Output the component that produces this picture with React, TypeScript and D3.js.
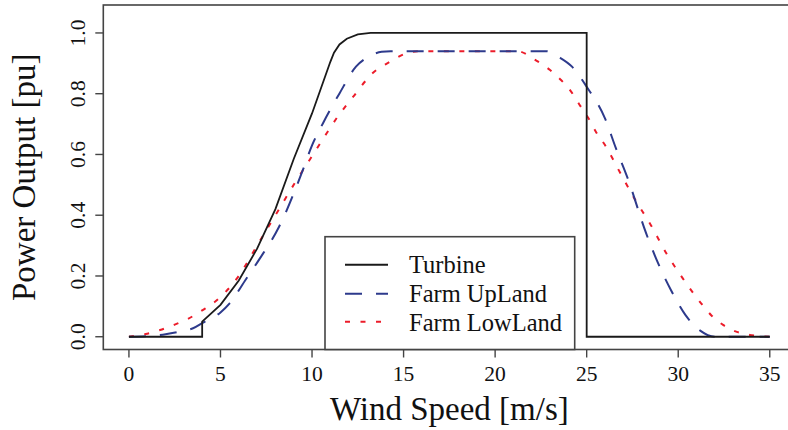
import React from "react";
import * as d3 from "d3";

const turbineWind = [0, 4, 4, 5, 6, 7, 8, 9, 10, 11, 11.2, 11.5, 11.9, 12.5, 13.2, 25, 25, 35];
const turbinePower = [0, 0, 0.05, 0.105, 0.185, 0.29, 0.42, 0.585, 0.735, 0.905, 0.935, 0.962, 0.981, 0.995, 1.0, 1.0, 0, 0];

const uplandWind = [0, 1, 2, 3, 3.5, 4, 5, 5.5, 6.4, 7.1, 8.2, 9.5, 10, 10.6, 11.5, 12.4, 13.2, 13.8, 14.3, 22.8, 23.5, 24.2, 25, 26, 26.6, 27.25, 28.25, 28.9, 29.6, 30.4, 31.2, 32, 35];
const uplandPower = [0, 0.002, 0.008, 0.02, 0.028, 0.045, 0.08, 0.11, 0.19, 0.253, 0.362, 0.549, 0.63, 0.703, 0.801, 0.889, 0.925, 0.938, 0.94, 0.94, 0.92, 0.889, 0.823, 0.719, 0.62, 0.52, 0.34, 0.242, 0.154, 0.071, 0.02, 0, 0];

const lowlandWind = [0, 1, 1.7, 2.5, 3.2, 4, 4.7, 5.9, 7.1, 8.1, 9.05, 9.9, 10.8, 11.35, 12.25, 13.3, 14.25, 15.15, 15.8, 21.2, 22.25, 23, 23.6, 24.15, 24.65, 25.1, 25.5, 26, 26.8, 27.6, 28.5, 29.35, 30.25, 31.25, 31.8, 32.45, 33.2, 33.9, 35];
const lowlandPower = [0, 0.01, 0.022, 0.04, 0.058, 0.087, 0.115, 0.192, 0.31, 0.41, 0.505, 0.585, 0.67, 0.72, 0.79, 0.867, 0.905, 0.933, 0.94, 0.94, 0.909, 0.878, 0.845, 0.807, 0.76, 0.719, 0.675, 0.631, 0.543, 0.456, 0.368, 0.275, 0.192, 0.11, 0.071, 0.039, 0.016, 0.006, 0];

const xTicks = [0, 5, 10, 15, 20, 25, 30, 35];
const yTicks = [0, 0.2, 0.4, 0.6, 0.8, 1.0];
const legendLabels = ["Turbine", "Farm UpLand", "Farm LowLand"];

const FONT = "'Liberation Serif', 'Times New Roman', serif";
const BLUE = "#2D3A8C";
const RED = "#EC1C2A";
const FRAME = "#444";

export default function App() {
  const W = 788, H = 430;
  const left = 103.3, right = 795.4, top = 5, bottom = 349.5;
  const x = d3.scaleLinear().domain([-1.4, 36.4]).range([left, right]);
  const y = d3.scaleLinear().domain([-0.042, 1.092]).range([bottom, top]);

  const zip = (a: number[], b: number[]) => a.map((v, i) => [v, b[i]] as [number, number]);
  const linLine = d3.line<[number, number]>().x(d => x(d[0])).y(d => y(d[1]));
  const smoothLine = d3.line<[number, number]>().x(d => x(d[0])).y(d => y(d[1])).curve(d3.curveMonotoneX);

  const turbinePath = linLine(zip(turbineWind, turbinePower)) || "";
  const uplandPath = smoothLine(zip(uplandWind, uplandPower)) || "";
  const lowlandPath = smoothLine(zip(lowlandWind, lowlandPower)) || "";

  const styles = [
    { stroke: "#1a1a1a", dash: undefined as string | undefined },
    { stroke: BLUE, dash: "17,14" },
    { stroke: RED, dash: "5,10.5" },
  ];

  const legX = 325, legY = 236.7, legR = 574.7;
  const rowY = [264.7, 293.8, 321.8];
  const baseY = [273, 302, 330.5];

  return (
    <svg width={W} height={H} style={{ position: "absolute", left: 0, top: 0, background: "#fff" }}>
      <rect x={0} y={0} width={W} height={H} fill="#fff" />
      {/* curves */}
      <path d={lowlandPath} fill="none" stroke={RED} strokeWidth={2} strokeDasharray={styles[2].dash} />
      <path d={uplandPath} fill="none" stroke={BLUE} strokeWidth={2} strokeDasharray={styles[1].dash} />
      <path d={turbinePath} fill="none" stroke="#1a1a1a" strokeWidth={1.8} />

      {/* frame */}
      <rect x={left} y={top} width={right - left} height={bottom - top} fill="none" stroke={FRAME} strokeWidth={1.6} />

      {/* x axis ticks */}
      {xTicks.map(t => (
        <g key={"x" + t}>
          <line x1={x(t)} x2={x(t)} y1={bottom} y2={bottom + 8} stroke={FRAME} strokeWidth={1.4} />
          <text x={x(t)} y={380.5} textAnchor="middle" fontFamily={FONT} fontSize={21.5} fill="#111">{t}</text>
        </g>
      ))}
      {/* y axis ticks */}
      {yTicks.map(t => (
        <g key={"y" + t}>
          <line x1={left} x2={left - 8} y1={y(t)} y2={y(t)} stroke={FRAME} strokeWidth={1.4} />
          <text transform={`translate(85,${y(t)}) rotate(-90)`} textAnchor="middle" fontFamily={FONT} fontSize={21.5} fill="#111">{t.toFixed(1)}</text>
        </g>
      ))}

      {/* axis titles */}
      <text x={(left + right) / 2} y={420} textAnchor="middle" fontFamily={FONT} fontSize={33} fill="#111">Wind Speed [m/s]</text>
      <text transform={`translate(35,${(top + bottom) / 2}) rotate(-90)`} textAnchor="middle" fontFamily={FONT} fontSize={33} fill="#111">Power Output [pu]</text>

      {/* legend */}
      <rect x={legX} y={legY} width={legR - legX} height={bottom - legY} fill="#fff" stroke={FRAME} strokeWidth={1.6} />
      {legendLabels.map((lab, i) => (
        <g key={lab}>
          <line x1={345} x2={388} y1={rowY[i]} y2={rowY[i]} stroke={styles[i].stroke} strokeWidth={2} strokeDasharray={styles[i].dash} />
          <text x={409} y={baseY[i]} fontFamily={FONT} fontSize={24.5} fill="#111">{lab}</text>
        </g>
      ))}
    </svg>
  );
}
